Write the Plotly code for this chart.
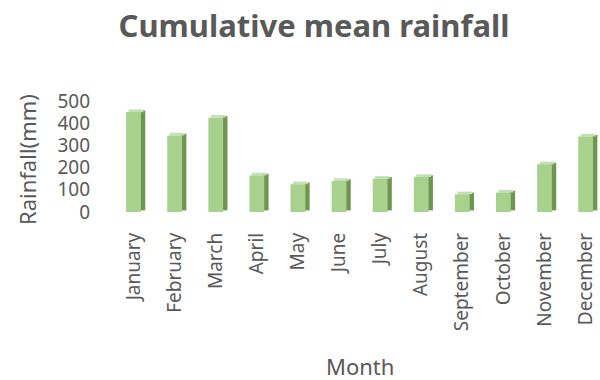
import plotly.graph_objects as go

months = ["January", "February", "March", "April", "May", "June", "July",
          "August", "September", "October", "November", "December"]
rainfall = [450, 345, 425, 165, 125, 140, 150, 158, 80, 88, 215, 340]
y_ticks = [0, 100, 200, 300, 400, 500]

GRAY = "#595959"
FRONT = "#a9d18e"
SIDE = "#6f9650"
TOP = "#c5e0b4"
depth = 12  # visual 3D depth in data units

x_idx = list(range(len(months)))

fig = go.Figure()
# side face (darker), shifted right and slightly up
fig.add_trace(go.Bar(x=[i + 0.22 for i in x_idx], y=rainfall, base=[depth * 0.6] * len(months),
                     width=0.13, marker=dict(color=SIDE, line=dict(width=0)),
                     hoverinfo="skip", showlegend=False))
# top face (lighter)
fig.add_trace(go.Bar(x=[i + 0.06 for i in x_idx], y=[depth] * len(months), base=rainfall,
                     width=0.36, marker=dict(color=TOP, line=dict(width=0)),
                     hoverinfo="skip", showlegend=False))
# front face
fig.add_trace(go.Bar(x=x_idx, y=rainfall, width=0.36,
                     marker=dict(color=FRONT, line=dict(width=0)),
                     showlegend=False))

L, R, T, B = 113, 0, 101, 168
pw = 600 - L - R
ph = 380 - T - B


def px_to_paper(px, py):
    return (px - L) / pw, (380 - B - py) / ph


ytx, yty = px_to_paper(27, 160)
mx, my = px_to_paper(360, 366)

fig.update_layout(
    width=600, height=380,
    margin=dict(l=L, r=R, t=T, b=B),
    paper_bgcolor="white", plot_bgcolor="white",
    font=dict(family="Noto Sans", color=GRAY),
    barmode="overlay",
    title=dict(text="<b>Cumulative mean rainfall</b>", x=314 / 600, xanchor="center",
               y=1 - 26 / 380, yanchor="middle",
               font=dict(size=31, color=GRAY, family="Noto Sans")),
    xaxis=dict(range=[-0.5, 11.35], tickmode="array", tickvals=x_idx, ticktext=months,
               tickangle=-90, tickfont=dict(size=19, color=GRAY),
               showgrid=False, zeroline=False, showline=False, ticks="",
               ticklabelstandoff=16),
    yaxis=dict(range=[0, 500], tickmode="array", tickvals=y_ticks,
               tickfont=dict(size=19, color=GRAY), showgrid=False, zeroline=False,
               showline=False, ticks="", ticklabelstandoff=22),
    annotations=[
        dict(text="Rainfall(mm)", x=ytx, y=yty, xref="paper", yref="paper",
             xanchor="center", yanchor="middle",
             showarrow=False, textangle=-90, font=dict(size=22, color=GRAY)),
        dict(text="Month", x=mx, y=my, xref="paper", yref="paper",
             xanchor="center", yanchor="middle", showarrow=False,
             font=dict(size=22, color=GRAY)),
    ],
)

fig.write_html("out.html")
